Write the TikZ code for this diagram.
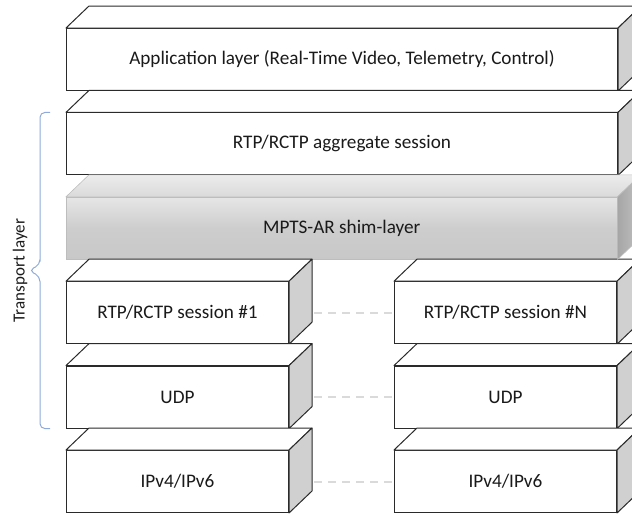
\documentclass[tikz,border=0pt]{standalone}
\usepackage{fontspec}
\setmainfont{Carlito}
\usetikzlibrary{calc}
\definecolor{edge}{HTML}{2A2A2A}
\definecolor{txt}{HTML}{1A1A1A}
\definecolor{sidegray}{HTML}{D0D0D0}
\definecolor{shimedge}{HTML}{BDBDBD}
\definecolor{shimtop}{HTML}{E6E6E6}
\definecolor{shimmid}{HTML}{CDCDCD}
\definecolor{shimbot}{HTML}{C8C8C8}
\definecolor{shimlid}{HTML}{ECECEC}
\definecolor{shimlidfront}{HTML}{DADADA}
\definecolor{shimsideA}{HTML}{A6A6A6}
\definecolor{shimsideB}{HTML}{C2C2C2}
\definecolor{bracecol}{HTML}{8EAADB}
\definecolor{dashcol}{HTML}{DADADA}
\begin{document}
\begin{tikzpicture}[x=1pt,y=-1pt,
  layerfont/.style={font=\fontsize{19.2}{22}\selectfont, text=txt},
  layerbox/.style={layerfont, draw=edge, line width=1pt, fill=white,
    minimum height=62pt, inner sep=0pt, anchor=north west},
  widebox/.style={layerbox, minimum width=551pt},
  narrowbox/.style={layerbox, minimum width=222pt},
  edgeline/.style={draw=edge, line width=1pt, line join=round},
  shimbox/.style={layerfont, draw=shimedge, line width=0.6pt,
    top color=shimtop, bottom color=shimbot, middle color=shimmid,
    minimum width=551pt, minimum height=62pt, inner sep=0pt, anchor=north west},
  gapline/.style={draw=dashcol, line width=2pt, dash pattern=on 8pt off 6pt},
  bracepath/.style={draw=bracecol, line width=1pt, rounded corners=5pt},
]
\path[use as bounding box, clip] (0,0) rectangle (632,515);

% front faces of the protocol layers
\node[widebox] (app) at (66,28) {Application layer (Real-Time Video, Telemetry, Control)};
\node[widebox] (agg) at (66,112.4) {RTP/RCTP aggregate session};
\node[shimbox] (shim) at (66,196.8) {};
\node[narrowbox] (sessA) at (66,281.2) {RTP/RCTP session \#1};
\node[narrowbox] (udpA) at (66,365.6) {UDP};
\node[narrowbox] (ipA) at (66,450) {IPv4/IPv6};
\node[narrowbox] (sessN) at (394,281.2) {RTP/RCTP session \#N};
\node[narrowbox] (udpN) at (394,365.6) {UDP};
\node[narrowbox] (ipN) at (394,450) {IPv4/IPv6};

% top and side faces of the white blocks
\foreach \n in {app,agg,sessA,udpA,ipA,sessN,udpN,ipN} {
  \draw[edgeline, fill=white] (\n.north west) -- ++(23,-22)
    -- ($(\n.north east)+(23,-22)$) -- (\n.north east) -- cycle;
  \draw[edgeline, fill=sidegray] (\n.north east) -- ++(23,-22)
    -- ($(\n.south east)+(23,-22)$) -- (\n.south east) -- cycle;
}

% shaded shim layer
\shade[top color=shimlid, bottom color=shimlidfront, draw=shimedge, line width=0.6pt]
  (shim.north west) -- ++(23,-22) -- ($(shim.north east)+(23,-22)$) -- (shim.north east) -- cycle;
\shade[left color=shimsideA, right color=shimsideB, draw=shimedge, line width=0.6pt]
  (shim.north east) -- ++(23,-22) -- ($(shim.south east)+(23,-22)$) -- (shim.south east) -- cycle;
\node[layerfont] (shimtext) at (shim.center) {MPTS-AR shim-layer};

% links between parallel sessions
\draw[gapline] ($(sessA.east)+(25,0)$) -- (sessN.west);
\draw[gapline] ($(udpA.east)+(25,0)$) -- (udpN.west);
\draw[gapline] ($(ipA.east)+(25,0)$) -- (ipN.west);

% transport layer brace
\coordinate (braceTop) at ($(agg.north west)+(-16,0)$);
\coordinate (braceBot) at ($(udpA.south west)+(-16,0)$);
\draw[bracepath] (braceTop) -- ++(-10,0) |- ($(braceTop)!0.5!(braceBot)+(-10,-6)$)
  -- ($(braceTop)!0.5!(braceBot)+(-21,0)$)
  -- ($(braceTop)!0.5!(braceBot)+(-10,6)$) |- (braceBot);
\node[rotate=90, font=\fontsize{17}{20}\selectfont, text=txt] (tlabel)
  at ($(braceTop)!0.5!(braceBot)+(-30,0)$) {Transport layer};
\end{tikzpicture}
\end{document}
